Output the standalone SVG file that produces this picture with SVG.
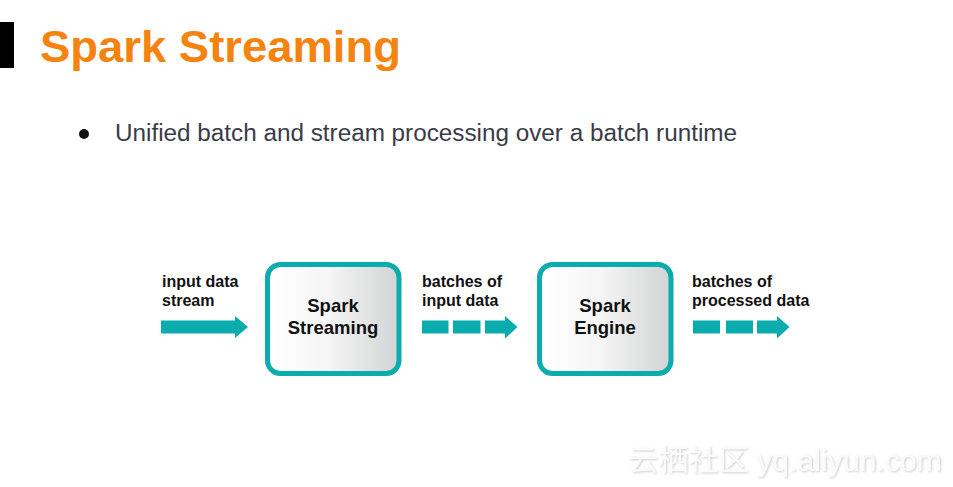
<svg xmlns="http://www.w3.org/2000/svg" width="953" height="487" viewBox="0 0 953 487">
<style>
.lbl{font-family:"Liberation Sans",Arial,sans-serif;font-weight:bold;font-size:16px;fill:#111}
.nodetxt{font-family:"Liberation Sans",Arial,sans-serif;font-weight:bold;font-size:18.5px;fill:#111;text-anchor:middle}
.box{fill:url(#g);stroke:#0aacad;stroke-width:5}
.flow{fill:#0aacad}
</style>
<defs>
<linearGradient id="g" x1="0" y1="0" x2="1" y2="0">
<stop offset="0" stop-color="#ffffff"/>
<stop offset="0.45" stop-color="#f6f6f6"/>
<stop offset="1" stop-color="#d2d3d4"/>
</linearGradient>
<filter id="sh" x="-5%" y="-20%" width="110%" height="150%">
<feDropShadow dx="1" dy="1" stdDeviation="0.8" flood-color="#c8c8c8" flood-opacity="0.9"/>
</filter>
</defs>
<rect width="953" height="487" fill="#ffffff"/>
<rect x="0" y="22" width="14" height="46" fill="#000"/>
<text x="40" y="62" font-family="'Liberation Sans',Arial,sans-serif" font-weight="bold" font-size="45" fill="#f5830f" textLength="361" lengthAdjust="spacingAndGlyphs">Spark Streaming</text>
<circle cx="84" cy="134" r="5" fill="#111"/>
<text x="115" y="141" font-family="'Liberation Sans',Arial,sans-serif" font-size="23" fill="#3b3b48" textLength="622" lengthAdjust="spacingAndGlyphs">Unified batch and stream processing over a batch runtime</text>

<g id="connectors">
<g id="arrow-input">
<polygon class="flow" points="161,320.5 235,320.5 235,316 248,327 235,338 235,333.5 161,333.5"/>
</g>
<g id="arrow-batches-input">
<rect class="flow" x="422" y="320.5" width="26.5" height="13"/>
<rect class="flow" x="453" y="320.5" width="27.5" height="13"/>
<polygon class="flow" points="485,320.5 505,320.5 505,316 517.5,327 505,338.5 505,333.5 485,333.5"/>
</g>
<g id="arrow-batches-processed">
<rect class="flow" x="693" y="320.5" width="27" height="13"/>
<rect class="flow" x="726" y="320.5" width="27" height="13"/>
<polygon class="flow" points="757,320.5 777,320.5 777,316 789.5,327 777,338.5 777,333.5 757,333.5"/>
</g>
</g>

<g id="label-input">
<text class="lbl" x="162" y="287">input data</text>
<text class="lbl" x="162" y="306">stream</text>
</g>
<g id="label-batches-input">
<text class="lbl" x="422" y="287">batches of</text>
<text class="lbl" x="422" y="306">input data</text>
</g>
<g id="label-batches-processed">
<text class="lbl" x="692" y="287">batches of</text>
<text class="lbl" x="692" y="306">processed data</text>
</g>

<g id="spark-streaming">
<rect class="box" x="267.5" y="264.5" width="131.5" height="109" rx="13"/>
<text class="nodetxt" x="333" y="312">Spark</text>
<text class="nodetxt" x="333" y="334">Streaming</text>
</g>
<g id="spark-engine">
<rect class="box" x="539.5" y="264.5" width="131.5" height="109" rx="13"/>
<text class="nodetxt" x="605" y="312">Spark</text>
<text class="nodetxt" x="605" y="334">Engine</text>
</g>

<text x="628" y="471" font-family="'Liberation Sans','Noto Sans CJK SC',sans-serif" font-size="29" fill="#fbfbfb" filter="url(#sh)" textLength="314" lengthAdjust="spacingAndGlyphs">云栖社区 yq.aliyun.com</text>
</svg>
